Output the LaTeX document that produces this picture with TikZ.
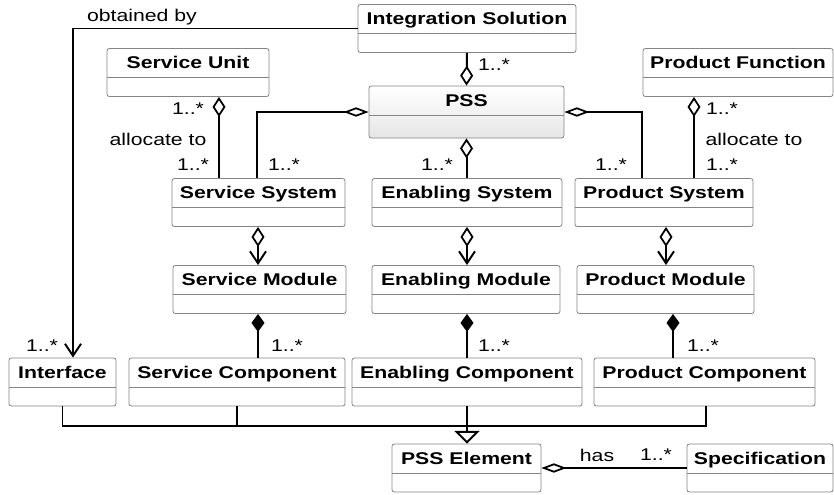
\documentclass[tikz,border=0pt]{standalone}
\usepackage{fontspec}
\newfontfamily\umlfont{Liberation Sans}[FakeStretch=1.25]
\usetikzlibrary{arrows.meta,positioning,calc}
\definecolor{BoxGray}{HTML}{858585}
\definecolor{ShadeGray}{HTML}{E6E6E6}
\tikzset{
  cls/.style={rectangle,rounded corners=2pt,draw=BoxGray,fill=white,line width=0.7pt,
              minimum width=#1*0.03cm,minimum height=1.44cm,inner xsep=0pt,inner ysep=0pt,
              text height=0.37cm,text depth=0.6cm,
              font=\umlfont\bfseries\fontsize{14.5}{16}\selectfont,
              path picture={\draw[BoxGray,line width=0.7pt]
                ([yshift=-0.87cm]path picture bounding box.north west) --
                ([yshift=-0.87cm]path picture bounding box.north east);}},
  lbl/.style={font=\umlfont\fontsize{14.5}{16}\selectfont,inner sep=0pt},
  link/.style={line width=1.7pt,color=black},
  nav/.style={link,-{Straight Barb[length=0.36cm,width=0.48cm,line width=1.7pt]}},
  agg/.style={link,{Diamond[open,length=0.6cm,width=0.39cm,line width=1.5pt]}-},
  aggw/.style={link,{Diamond[open,length=0.75cm,width=0.28cm,line width=1.5pt]}-},
  aggnav/.style={link,{Diamond[open,length=0.6cm,width=0.39cm,line width=1.5pt]}-{Straight Barb[length=0.36cm,width=0.48cm,line width=1.7pt]}},
  comp/.style={link,{Diamond[length=0.54cm,width=0.39cm]}-},
  gen/.style={link,-{Triangle[open,length=0.38cm,width=0.75cm,line width=1.7pt]}},
}

\begin{document}
\begin{tikzpicture}[x=0.03cm,y=-0.03cm]
  \useasboundingbox (0,0) rectangle (834,494);

  % classes
  \node[cls=218] (intsol) at (467,28.5) {Integration Solution};
  \node[cls=162] (unit)   at (188,72.5) {Service Unit};
  \node[cls=195,minimum height=1.56cm,top color=white,bottom color=ShadeGray,
        text depth=0.72cm] (pss) at (466.5,112) {PSS};
  \node[cls=190] (func)   at (738,72.5) {Product Function};

  \node[cls=173] (ssys) at (258.5,202.5) {Service System};
  \node[cls=190] (esys) at (467,202.5)   {Enabling System};
  \node[cls=178] (psys) at (664,202.5)   {Product System};

  \node[cls=173] (smod) at (259.5,289.5) {Service Module};
  \node[cls=188] (emod) at (466,289.5)   {Enabling Module};
  \node[cls=177] (pmod) at (665.5,289.5) {Product Module};

  \node[cls=107] (iface) at (62.5,382) {Interface};
  \node[cls=216] (scomp) at (237,382)  {Service Component};
  \node[cls=230] (ecomp) at (467,382)  {Enabling Component};
  \node[cls=221] (pcomp) at (704.5,382) {Product Component};

  \node[cls=149] (elem) at (466.5,468) {PSS Element};
  \node[cls=146] (spec) at (760,468)   {Specification};

  % associations
  \coordinate (obt) at (73,28.5);
  \draw[nav] (intsol.west) -- (obt) -- (obt |- iface.north);
  \draw[agg] (pss.north) -- (intsol.south);
  \draw[agg] ($(unit.south)+(31,0)$) coordinate (ua) -- (ua |- ssys.north);
  \draw[aggw] (pss.west) -| ($(ssys.north)+(-1.5,0)$);
  \draw[agg] (pss.south) -- (pss.south |- esys.north);
  \draw[aggw] (pss.east) -| ($(psys.north)+(-22,0)$);
  \draw[agg] ($(func.south)+(-44,0)$) coordinate (fa) -- (fa |- psys.north);

  \draw[aggnav] ($(ssys.south)+(-0.5,0)$) coordinate (sa) -- (sa |- smod.north);
  \draw[aggnav] (esys.south) -- (esys.south |- emod.north);
  \draw[aggnav] ($(psys.south)+(2,0)$) coordinate (pa) -- (pa |- pmod.north);

  \draw[comp] ($(smod.south)+(-1.5,0)$) coordinate (sb) -- (sb |- scomp.north);
  \draw[comp] ($(emod.south)+(1,0)$) coordinate (eb) -- (eb |- ecomp.north);
  \draw[comp] ($(pmod.south)+(7.5,0)$) coordinate (pb) -- (pb |- pcomp.north);

  % generalization
  \coordinate (gen) at (467,426);
  \draw[link] (iface.south) |- (gen) -| ($(pcomp.south)+(1.5,0)$);
  \draw[link] (scomp.south) -- (scomp.south |- gen);
  \draw[gen] (ecomp.south) -- (ecomp.south |- elem.north);
  \draw[aggw] (elem.east) -- (spec.west);

  % labels
  \node[lbl] (l-obt)  at (142,17)  {obtained by};
  \node[lbl] (l-int)  at (494,65)  {1..*};
  \node[lbl] (l-su1)  at (188,109) {1..*};
  \node[lbl] (l-sal)  at (158,139) {allocate to};
  \node[lbl] (l-su2)  at (193,165) {1..*};
  \node[lbl] (l-ss)   at (284,165) {1..*};
  \node[lbl] (l-es)   at (437,165) {1..*};
  \node[lbl] (l-ps)   at (611,165) {1..*};
  \node[lbl] (l-pf1)  at (722,109) {1..*};
  \node[lbl] (l-pal)  at (754,139) {allocate to};
  \node[lbl] (l-pf2)  at (722,165) {1..*};
  \node[lbl] (l-if)   at (42,346)  {1..*};
  \node[lbl] (l-sc)   at (287,346) {1..*};
  \node[lbl] (l-ec)   at (494,346) {1..*};
  \node[lbl] (l-pc)   at (703,346) {1..*};
  \node[lbl] (l-has)  at (597,455) {has};
  \node[lbl] (l-spec) at (656,455) {1..*};
\end{tikzpicture}
\end{document}
